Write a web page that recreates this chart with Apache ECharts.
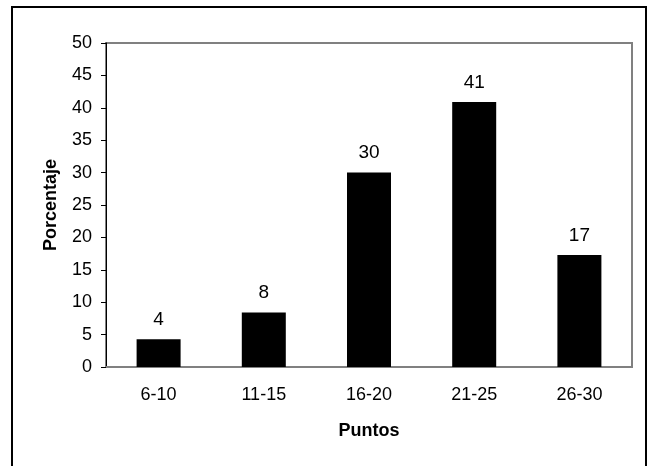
<!DOCTYPE html>
<html>
<head>
<meta charset="utf-8">
<script src="https://cdn.jsdelivr.net/npm/echarts@6/dist/echarts.min.js"></script>
<style>
html,body{margin:0;padding:0;background:#fff;}
#c{width:647px;height:466px;}
</style>
</head>
<body>
<div id="c"></div>
<script>
var categories = ['6-10', '11-15', '16-20', '21-25', '26-30'];
var values = [4.3, 8.4, 30.0, 40.9, 17.3];
var yTicks = [0, 5, 10, 15, 20, 25, 30, 35, 40, 45, 50];

var FONT = '"Liberation Sans", Arial, sans-serif';
var chart = echarts.init(document.getElementById('c'), null, {renderer: 'canvas'});
chart.setOption({
  animation: false,
  backgroundColor: '#fff',
  graphic: [{
    type: 'rect',
    shape: {x: 12, y: 7, width: 634, height: 470},
    style: {fill: 'none', stroke: '#000', lineWidth: 2},
    z: 100
  }],
  grid: {
    left: 106, right: 15, top: 43, bottom: 99,
    show: true, borderColor: '#808080', borderWidth: 2, backgroundColor: 'transparent'
  },
  xAxis: {
    type: 'category',
    data: categories,
    name: 'Puntos',
    nameLocation: 'middle',
    nameGap: 55,
    nameTextStyle: {fontFamily: FONT, fontSize: 18, fontWeight: 'bold', color: '#000'},
    axisLine: {lineStyle: {color: '#808080', width: 2}},
    axisTick: {show: false},
    axisLabel: {fontFamily: FONT, fontSize: 18, color: '#000', margin: 19}
  },
  yAxis: {
    type: 'value',
    min: yTicks[0],
    max: yTicks[yTicks.length - 1],
    interval: 5,
    name: 'Porcentaje',
    nameLocation: 'middle',
    nameGap: 46,
    nameRotate: 90,
    nameTextStyle: {fontFamily: FONT, fontSize: 18, fontWeight: 'bold', color: '#000'},
    axisLine: {show: true, lineStyle: {color: '#000', width: 1}},
    axisTick: {show: true, length: 5, lineStyle: {color: '#000'}},
    splitLine: {show: false},
    axisLabel: {fontFamily: FONT, fontSize: 18, color: '#000', margin: 14}
  },
  series: [{
    type: 'bar',
    data: values,
    barWidth: 44,
    itemStyle: {color: '#000'},
    label: {
      show: true,
      position: 'top',
      distance: 10,
      fontFamily: FONT,
      fontSize: 19,
      color: '#000',
      formatter: function (p) { return Math.round(p.value); }
    }
  }]
});
</script>
</body>
</html>
